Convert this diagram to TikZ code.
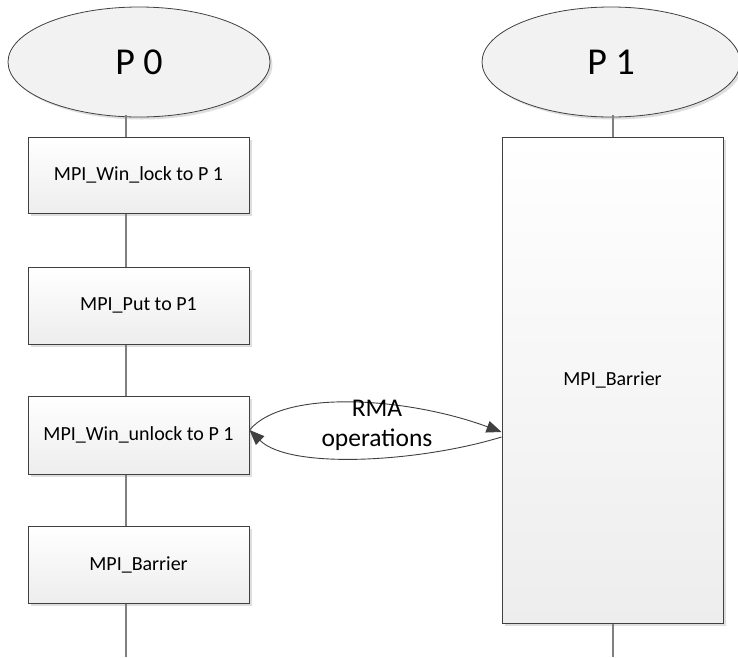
\documentclass[tikz,border=0pt]{standalone}
\usepackage{fontspec}
\setmainfont{Carlito}
\usetikzlibrary{shapes.geometric,arrows.meta,shadows}
\definecolor{edge}{HTML}{404040}
\definecolor{lifec}{HTML}{7F7F7F}
\begin{document}
\begin{tikzpicture}[x=1pt,y=-1pt,
  shade/.style={drop shadow={shadow xshift=2.5pt,shadow yshift=-2.5pt,fill=black!13,opacity=1}},
  proc/.style={ellipse, draw=edge, line width=0.8pt, fill=black!5, inner sep=0pt,
    minimum height=110pt, font=\fontsize{38}{44}\selectfont, shade},
  stepbox/.style={rectangle, draw=edge, line width=1pt, top color=white, bottom color=black!7,
    inner sep=0pt, minimum width=221pt, font=\fontsize{20}{24}\selectfont, shade},
  life/.style={draw=lifec, line width=1.5pt},
  msg/.style={draw=edge, line width=0.9pt, -{Triangle[length=15pt,width=12pt]}}
]
\useasboundingbox (0,0) rectangle (738,657);

\node[proc, minimum width=262pt] (P0) at (139,62) {P 0};
\node[proc, minimum width=258pt] (P1) at (611,62) {P 1};

\node[stepbox, minimum height=76pt] (b1) at (138.5,175) {MPI\_Win\_lock to P 1};
\node[stepbox, minimum height=77pt] (b2) at (138.5,305.5) {MPI\_Put to P1};
\node[stepbox, minimum height=78pt] (b3) at (138.5,435) {MPI\_Win\_unlock to P 1};
\node[stepbox, minimum height=77pt] (b4) at (138.5,564.5) {MPI\_Barrier};
\node[stepbox, minimum height=486pt] (bb) at (612.5,380) {MPI\_Barrier};

\coordinate (l0) at (126,0);
\coordinate (l1) at (613,0);
\coordinate (e0) at (126,657);
\coordinate (e1) at (613,657);

\draw[life] ([yshift=2pt]P0.south -| l0) -- (b1.north -| l0);
\draw[life] (b1.south -| l0) -- (b2.north -| l0);
\draw[life] (b2.south -| l0) -- (b3.north -| l0);
\draw[life] (b3.south -| l0) -- (b4.north -| l0);
\draw[life] (b4.south -| l0) -- (e0);
\draw[life] ([yshift=2pt]P1.south -| l1) -- (bb.north -| l1);
\draw[life] (bb.south -| l1) -- (e1);

\draw[msg] ([yshift=5pt]b3.east) .. controls (285,388) and (410,398) .. ([yshift=-52pt]bb.west);
\draw[msg] ([yshift=-57pt]bb.west) .. controls (420,462) and (290,470) .. ([yshift=5pt]b3.east);

\node[font=\fontsize{25.5}{30}\selectfont, align=center, inner sep=0pt] (rma) at (377,425) {RMA\\operations};
\end{tikzpicture}
\end{document}
